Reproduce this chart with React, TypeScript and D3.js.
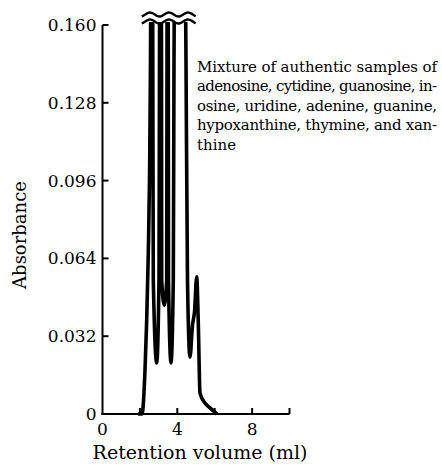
import React, { useRef, useEffect } from 'react';
import * as d3 from 'd3';

// retention volume (ml) and absorbance; peaks above 0.160 are off scale
const volumes = [1.9, 2.0, 2.112, 2.273, 2.364, 2.449, 2.513, 2.567, 2.631, 2.69, 2.717, 2.898, 3.021, 3.048, 3.102, 3.155, 3.166, 3.305, 3.433, 3.449, 3.487, 3.519, 3.529, 3.663, 3.786, 3.824, 4.144, 4.465, 4.545, 4.679, 4.813, 4.92, 5.037, 5.123, 5.214, 5.481, 5.749, 6.123];
const absorbance = [0, 0, 0, 0.0181, 0.0387, 0.0662, 0.0963, 0.1456, 0.3, 0.1456, 0.0551, 0.021, 0.0551, 0.1456, 0.3, 0.1456, 0.0551, 0.0448, 0.0551, 0.1456, 0.3, 0.1456, 0.0551, 0.021, 0.0551, 0.1456, 0.4, 0.1456, 0.0551, 0.0234, 0.0366, 0.042, 0.0564, 0.0374, 0.0086, 0.0045, 0.0025, 0];

const yTicks = [0, 0.032, 0.064, 0.096, 0.128, 0.16];
const yTickLabels = ['0', '0.032', '0.064', '0.096', '0.128', '0.160'];
const xTicks = [0, 2, 4, 6, 8, 10];
const xTickLabels = ['0', '', '4', '', '8', ''];

const noteLines = [
  'Mixture of authentic samples of',
  'adenosine, cytidine, guanosine, in-',
  'osine, uridine, adenine, guanine,',
  'hypoxanthine, thymine, and xan-',
  'thine'
];

const FONT = '"DejaVu Serif", serif';

const Chromatogram = () => {
  const svgRef = useRef(null);

  useEffect(() => {
    const svg = d3.select(svgRef.current);
    svg.selectAll('*').remove();

    const xScale = d3.scaleLinear().domain([0, 10]).range([102.5, 289.5]);
    const yScale = d3.scaleLinear().domain([0, 0.16]).range([414, 25]);

    const data = volumes.map((v, i) => ({ v, a: absorbance[i] }));

    // clip off-scale peaks at the break
    svg.append('defs').append('clipPath')
      .attr('id', 'top-cut')
      .append('rect')
      .attr('x', 0)
      .attr('y', yScale(0.1612))
      .attr('width', 442)
      .attr('height', 467);

    // axes
    const axisG = svg.append('g').attr('stroke', '#000').attr('stroke-width', 2).attr('fill', 'none');
    axisG.append('line')
      .attr('x1', xScale(0)).attr('x2', xScale(0))
      .attr('y1', yScale(0.16)).attr('y2', yScale(0) + 1);
    axisG.append('line')
      .attr('x1', xScale(0) - 1).attr('x2', xScale(10))
      .attr('y1', yScale(0)).attr('y2', yScale(0));

    // inward ticks
    yTicks.filter(t => t > 0).forEach(t => {
      axisG.append('line')
        .attr('x1', xScale(0)).attr('x2', xScale(0) + 6)
        .attr('y1', yScale(t)).attr('y2', yScale(t));
    });
    xTicks.filter(t => t > 0).forEach(t => {
      axisG.append('line')
        .attr('x1', xScale(t)).attr('x2', xScale(t))
        .attr('y1', yScale(0)).attr('y2', yScale(0) - 6);
    });

    // tick labels
    svg.append('g')
      .selectAll('text')
      .data(yTicks)
      .enter()
      .append('text')
      .attr('x', xScale(0) - 6)
      .attr('y', d => yScale(d) + 6)
      .attr('text-anchor', 'end')
      .style('font-family', FONT)
      .style('font-size', '17px')
      .text((d, i) => yTickLabels[i]);

    svg.append('g')
      .selectAll('text')
      .data(xTicks)
      .enter()
      .append('text')
      .attr('x', d => xScale(d))
      .attr('y', 435)
      .attr('text-anchor', 'middle')
      .style('font-family', FONT)
      .style('font-size', '17px')
      .text((d, i) => xTickLabels[i]);

    // axis titles
    svg.append('text')
      .attr('x', 200)
      .attr('y', 459)
      .attr('text-anchor', 'middle')
      .style('font-family', FONT)
      .style('font-size', '19px')
      .text('Retention volume (ml)');

    svg.append('text')
      .attr('transform', 'translate(26,235) rotate(-90)')
      .attr('text-anchor', 'middle')
      .style('font-family', FONT)
      .style('font-size', '18px')
      .text('Absorbance');

    // trace
    const line = d3.line()
      .x(d => xScale(d.v))
      .y(d => yScale(d.a))
      .curve(d3.curveMonotoneX);

    svg.append('path')
      .datum(data)
      .attr('clip-path', 'url(#top-cut)')
      .attr('fill', 'none')
      .attr('stroke', '#000')
      .attr('stroke-width', 3.6)
      .attr('stroke-linejoin', 'round')
      .attr('d', line);

    // wavy break marks over the off-scale peaks
    const waveX = d3.range(xScale(2.1), xScale(5.0) + 0.5, 1);
    const wave = base => d3.line()
      .x(d => d)
      .y(d => base - 2 * Math.cos((2 * Math.PI * (d - 150)) / 19))
      .curve(d3.curveBasis)(waveX);
    [14.5, 21.5].forEach(base => {
      svg.append('path')
        .attr('d', wave(base))
        .attr('fill', 'none')
        .attr('stroke', '#000')
        .attr('stroke-width', 2.4);
    });

    // annotation
    const note = svg.append('g');
    noteLines.forEach((t, i) => {
      const txt = note.append('text')
        .attr('x', 197)
        .attr('y', 71.5 + i * 19.5)
        .style('font-family', FONT)
        .style('font-size', '15px')
        .text(t);
      if (i < noteLines.length - 1) {
        txt.attr('textLength', 240).attr('lengthAdjust', 'spacing');
      }
    });
  }, []);

  return (
    <svg
      ref={svgRef}
      width={442}
      height={467}
      style={{ position: 'absolute', left: 0, top: 0, background: '#fff' }}
    />
  );
};

export default function App() {
  return <Chromatogram />;
}
